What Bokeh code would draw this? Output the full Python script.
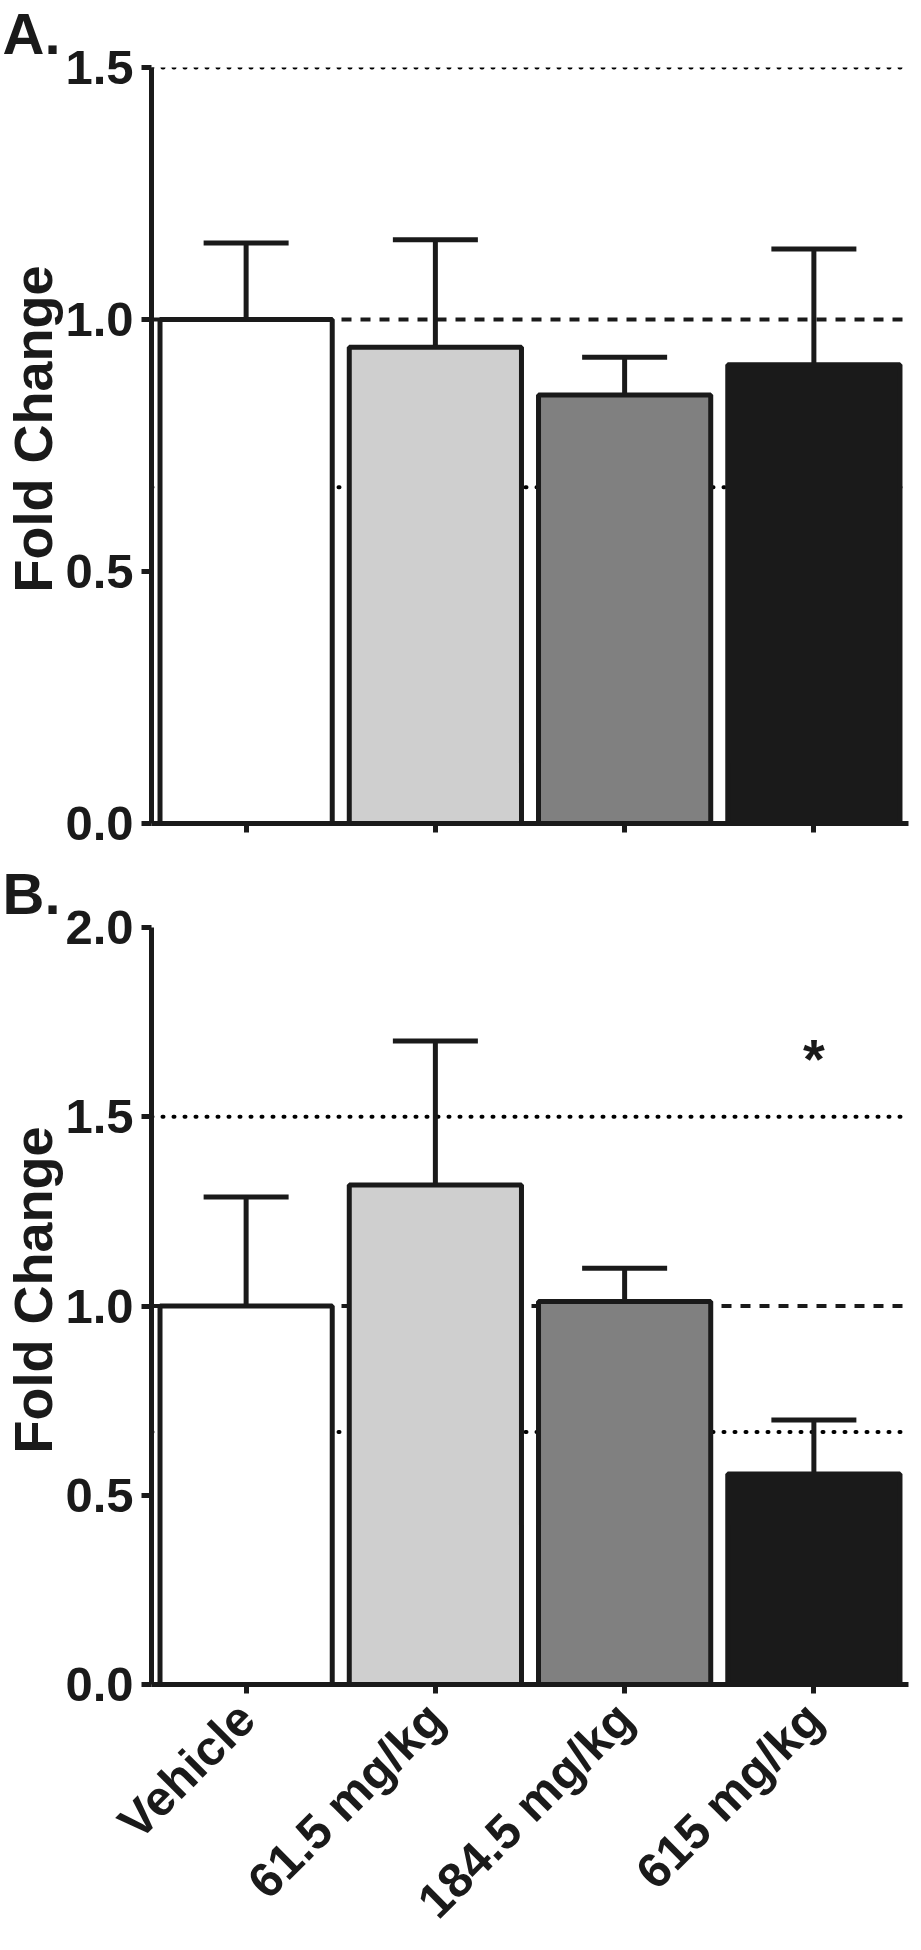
import math
from bokeh.plotting import figure
from bokeh.models import (ColumnDataSource, FactorRange, Range1d, FixedTicker,
                          NumeralTickFormatter, Span, Whisker, TeeHead, Title,
                          CustomJSTickFormatter)
from bokeh.layouts import column
from bokeh.embed import file_html
from bokeh.resources import INLINE
from bokeh.core.properties import value

# ---------------- data ----------------
categories = ["Vehicle", "61.5 mg/kg", "184.5 mg/kg", "615 mg/kg"]
bar_colors = ["#ffffff", "#cfcfcf", "#808080", "#1a1a1a"]

a_mean = [1.00, 0.945, 0.85, 0.91]
a_sem = [0.152, 0.213, 0.075, 0.23]
a_ticks = [0.0, 0.5, 1.0, 1.5]

b_mean = [1.00, 1.32, 1.012, 0.556]
b_sem = [0.288, 0.38, 0.088, 0.143]
b_ticks = [0.0, 0.5, 1.0, 1.5, 2.0]
b_sig = ["", "", "", "*"]

ref_dotted = [1.5, 0.667]
ref_dashed = [1.0]

# ---------------- style ----------------
INK = "#1a1a1a"
FONT = "Liberation Sans"
YTICK_FS = "49px"
XTICK_FS = "49px"
TITLE_FS = "54px"
LETTER_FS = "58px"
LEFT = 150


def panel(means, sems, ticks, ymax, height, top, bottom, letter, show_x_labels):
    upper = [m + s for m, s in zip(means, sems)]
    src = ColumnDataSource(dict(cat=categories, mean=means, upper=upper,
                                color=bar_colors))
    p = figure(x_range=FactorRange(factors=categories, range_padding=0),
               y_range=Range1d(0, ymax), width=921, height=height,
               output_backend="svg", toolbar_location=None,
               min_border_left=LEFT, min_border_right=13,
               min_border_top=top, min_border_bottom=bottom)
    p.outline_line_color = None
    p.grid.visible = False

    for yv in ref_dotted:
        if yv <= ymax:
            p.add_layout(Span(location=yv, dimension="width", line_color="#000000",
                              line_width=4, line_dash="1 10", line_cap="round",
                              level="underlay"))
    for yv in ref_dashed:
        p.add_layout(Span(location=yv, dimension="width", line_color=INK,
                          line_width=4, line_dash="10 9", level="underlay"))

    p.add_layout(Whisker(base="cat", upper="upper", lower="mean", source=src,
                         line_color=INK, line_width=5,
                         upper_head=TeeHead(size=85, line_color=INK, line_width=5),
                         lower_head=None, level="underlay"))

    p.vbar(x="cat", top="mean", bottom=0, width=0.91, source=src,
           fill_color="color", line_color=INK, line_width=5)

    for ax in (p.xaxis[0], p.yaxis[0]):
        ax.axis_line_width = 5
        ax.axis_line_color = INK
        ax.major_tick_line_width = 5
        ax.major_tick_line_color = INK
        ax.major_tick_in = 0
        ax.major_label_text_font = FONT
        ax.major_label_text_font_style = "bold"
        ax.major_label_text_color = INK

    p.yaxis.major_label_text_font_size = YTICK_FS
    p.yaxis.major_tick_out = 10
    p.yaxis.minor_tick_line_color = None
    p.yaxis.ticker = FixedTicker(ticks=ticks)
    p.yaxis.formatter = NumeralTickFormatter(format="0.0")
    p.yaxis.major_label_standoff = 8

    p.xaxis.major_label_text_font_size = XTICK_FS
    p.xaxis.major_tick_out = 9
    p.xaxis.major_label_standoff = 17
    p.xaxis.major_label_orientation = math.pi / 4
    if not show_x_labels:
        p.xaxis.formatter = CustomJSTickFormatter(code="return ''")
        p.xaxis.major_label_standoff = 0

    p.add_layout(Title(text="Fold Change", text_font=FONT, text_font_style="bold",
                       text_font_size=TITLE_FS, text_color=INK, align="left",
                       offset=231, standoff=0), "left")
    p.add_layout(Title(text=letter, text_font=FONT, text_font_style="bold",
                       text_font_size=LETTER_FS, text_color=INK, align="left",
                       offset=-LEFT + 1, standoff=0, vertical_align="top"), "above")
    return p


pA = panel(a_mean, a_sem, a_ticks, 1.5, 860, 65, 37, "A.", False)
pB = panel(b_mean, b_sem, b_ticks, 2.0, 1090, 66, 263, "B.", True)

star_y = 1.655
pB.text(x=categories, y=[star_y] * len(categories), text=b_sig,
        text_font=value(FONT), text_font_style="bold", text_font_size="56px",
        text_color=INK, text_align="center", text_baseline="alphabetic")

layout = column(pA, pB, spacing=0)
open("out.html", "w").write(file_html(layout, INLINE))
